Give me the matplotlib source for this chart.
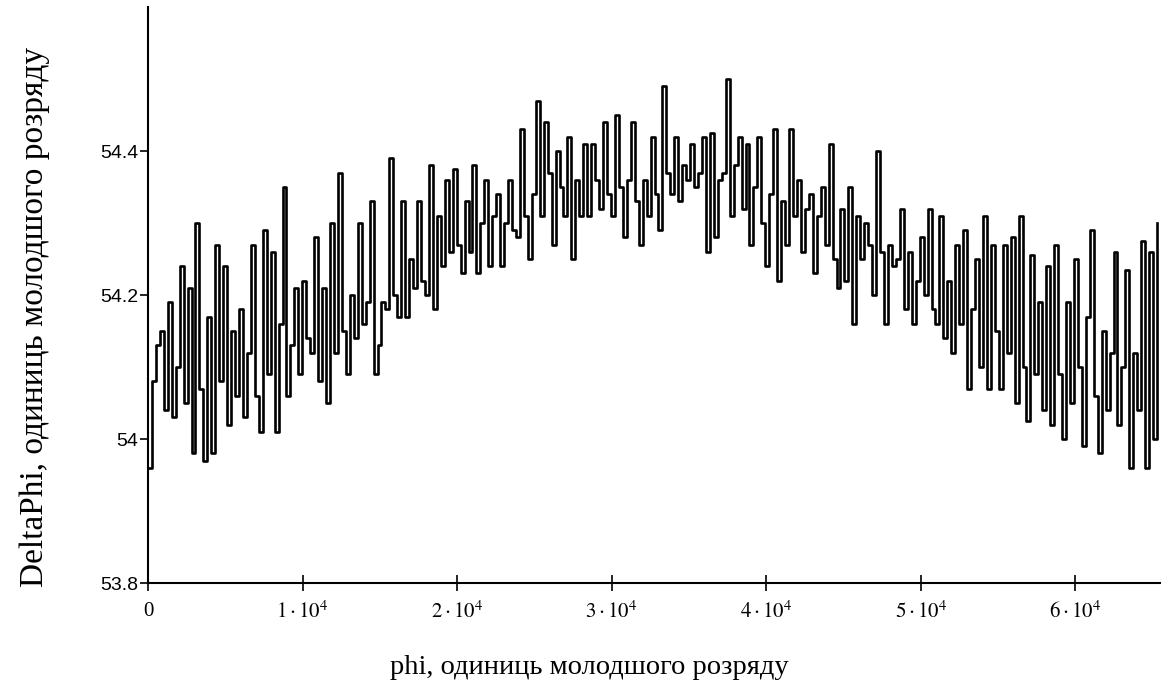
import matplotlib
matplotlib.use('Agg')
import matplotlib.pyplot as plt
import numpy as np

# one sample every 256 units of phi
step = 256
delta_phi = [
    # 0 .. 1.25e4
    53.96, 54.08, 54.13, 54.15, 54.04, 54.19, 54.03, 54.10, 54.24, 54.05,
    54.21, 53.98, 54.30, 54.07, 53.97, 54.17, 53.98, 54.27, 54.08, 54.24,
    54.02, 54.15, 54.06, 54.18, 54.03, 54.12, 54.27, 54.06, 54.01, 54.29,
    54.09, 54.26, 54.01, 54.16, 54.35, 54.06, 54.13, 54.21, 54.09, 54.22,
    54.14, 54.12, 54.28, 54.08, 54.21, 54.05, 54.30, 54.12, 54.37, 54.15,
    # 1.28e4 .. 2.56e4
    54.09, 54.20, 54.14, 54.30, 54.16, 54.19, 54.33, 54.09, 54.13, 54.19,
    54.18, 54.39, 54.20, 54.17, 54.33, 54.17, 54.25, 54.21, 54.33, 54.22,
    54.20, 54.38, 54.18, 54.31, 54.24, 54.36, 54.26, 54.375, 54.27, 54.23,
    54.33, 54.26, 54.38, 54.23, 54.30, 54.36, 54.24, 54.31, 54.34, 54.24,
    54.30, 54.36, 54.29, 54.28, 54.43, 54.31, 54.25, 54.34, 54.47, 54.31,
    54.44,
    # 2.59e4 .. 3.87e4
    54.37, 54.27, 54.40, 54.35, 54.31, 54.42, 54.25, 54.36, 54.31, 54.41,
    54.31, 54.41, 54.36, 54.32, 54.44, 54.34, 54.31, 54.45, 54.35, 54.28,
    54.36, 54.44, 54.33, 54.27, 54.36, 54.31, 54.42, 54.34, 54.29, 54.49,
    54.37, 54.34, 54.42, 54.33, 54.38, 54.36, 54.41, 54.35, 54.37, 54.42,
    54.26, 54.425, 54.28, 54.36, 54.37, 54.50, 54.31, 54.38, 54.42, 54.32,
    54.41,
    # 3.89e4 .. 5.15e4
    54.27, 54.35, 54.42, 54.30, 54.24, 54.34, 54.43, 54.22, 54.33, 54.27,
    54.43, 54.31, 54.36, 54.26, 54.32, 54.34, 54.23, 54.31, 54.35, 54.27,
    54.41, 54.25, 54.21, 54.32, 54.22, 54.35, 54.16, 54.31, 54.25, 54.30,
    54.27, 54.20, 54.40, 54.26, 54.16, 54.27, 54.24, 54.25, 54.32, 54.18,
    54.26, 54.16, 54.22, 54.28, 54.20, 54.32, 54.18, 54.16, 54.31, 54.14,
    # 5.17e4 .. 6.53e4
    54.22, 54.12, 54.27, 54.16, 54.29, 54.07, 54.18, 54.25, 54.10, 54.31,
    54.07, 54.27, 54.15, 54.07, 54.27, 54.12, 54.28, 54.05, 54.31, 54.10,
    54.025, 54.255, 54.09, 54.19, 54.04, 54.24, 54.02, 54.27, 54.09, 54.00,
    54.19, 54.05, 54.25, 54.10, 53.99, 54.17, 54.29, 54.06, 53.98, 54.15,
    54.04, 54.12, 54.26, 54.02, 54.10, 54.235, 53.96, 54.12, 54.04, 54.275,
    53.96, 54.26, 54.00, 54.30,
]
phi = np.arange(len(delta_phi)) * step

x_ticks = [0, 10000, 20000, 30000, 40000, 50000, 60000]
x_tick_labels = ['0'] + [r'$%d\cdot10^{4}$' % k for k in range(1, 7)]
y_ticks = [53.8, 54.0, 54.2, 54.4]
y_tick_labels = ['53.8', '54', '54.2', '54.4']

plt.rcParams['font.family'] = ['Liberation Serif', 'DejaVu Serif']
plt.rcParams['mathtext.fontset'] = 'stix'

fig = plt.figure(figsize=(11.61, 6.99), dpi=100)
ax = fig.add_axes([148 / 1161, 1 - 583 / 699, 1 - 148 / 1161, 576 / 699])

ax.plot(phi, delta_phi, color='black', lw=1.9, drawstyle='steps-post')

ax.set_xlim(0, 65535)
ax.set_ylim(53.8, 54.6)
ax.spines['top'].set_visible(False)
ax.spines['right'].set_visible(False)
ax.spines['left'].set_linewidth(1.5)
ax.spines['bottom'].set_linewidth(1.5)

ax.set_xticks(x_ticks)
ax.set_xticklabels(x_tick_labels, fontsize=15)
ax.set_yticks(y_ticks)
ax.set_yticklabels(y_tick_labels, fontsize=14, family='Liberation Sans')
ax.tick_params(axis='x', direction='inout', length=11, width=1.2, pad=8)
ax.tick_params(axis='y', direction='out', length=6, width=1.2, pad=1)

fig.text(0.508, 1 - 668 / 699, 'phi, одиниць молодшого розряду',
         ha='center', va='center', fontsize=20.5)
fig.text(35 / 1161, 1 - 317 / 699, 'DeltaPhi, одиниць молодшого розряду',
         ha='center', va='center', rotation=90, fontsize=24)

fig.savefig('out.png', dpi=100)
